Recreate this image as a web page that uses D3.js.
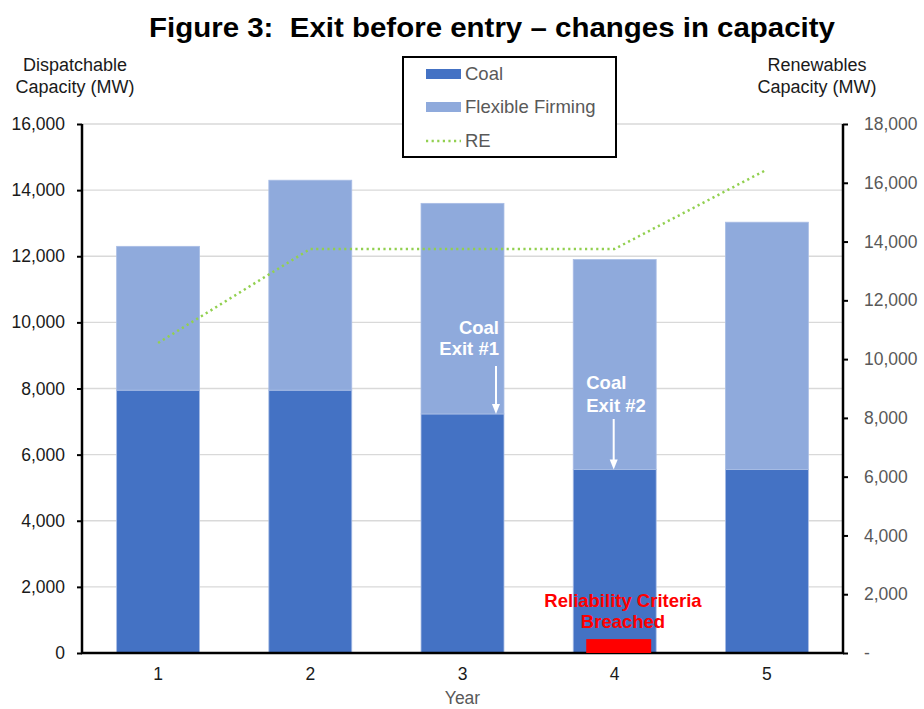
<!DOCTYPE html>
<html>
<head>
<meta charset="utf-8">
<script src="https://cdn.jsdelivr.net/npm/d3@7/dist/d3.min.js"></script>
<style>
  html, body { margin: 0; padding: 0; background: #fff; }
  svg { display: block; font-family: "Liberation Sans", Arial, sans-serif; }
</style>
</head>
<body>
<svg id="chart" width="924" height="709"></svg>
<script>
// Years on the category axis
const years = ["1", "2", "3", "4", "5"];
// Dispatchable capacity (MW), stacked
const coal = [7950, 7950, 7230, 5550, 5550];
const flexibleFirming = [4350, 6350, 6370, 6350, 7480];
// Renewables capacity (MW), right axis
const renewables = [10550, 13750, 13750, 13750, 16450];
// Axis ticks
const leftTicks = [0, 2000, 4000, 6000, 8000, 10000, 12000, 14000, 16000];
const rightTicks = [0, 2000, 4000, 6000, 8000, 10000, 12000, 14000, 16000, 18000];
// Reliability breach marker height (MW)
const breachYear = "4";
const breachValue = 420;

const svg = d3.select("#chart");
const W = 924, H = 709;
const m = { left: 82, right: 81, top: 124, bottom: 56 };
const iw = W - m.left - m.right, ih = H - m.top - m.bottom;

const COAL = "#4472C4", FLEX = "#8FAADC", RE = "#92D050";
const FS = 17.5;

const x = d3.scaleBand().domain(years).range([0, iw]).paddingInner(0.455).paddingOuter(0.2275);
const yL = d3.scaleLinear().domain([0, 16000]).range([ih, 0]);
const yR = d3.scaleLinear().domain([0, 18000]).range([ih, 0]);

// Title
svg.append("text")
  .attr("x", 492).attr("y", 37)
  .attr("text-anchor", "middle")
  .attr("font-size", 27).attr("font-weight", "bold").attr("fill", "#000")
  .attr("textLength", 686).attr("lengthAdjust", "spacingAndGlyphs")
  .style("white-space", "pre")
  .text("Figure 3:  Exit before entry \u2013 changes in capacity");

// Axis titles
const leftTitle = svg.append("text").attr("font-size", 18).attr("fill", "#1a1a1a").attr("text-anchor", "middle");
leftTitle.append("tspan").attr("x", 75).attr("y", 71).text("Dispatchable");
leftTitle.append("tspan").attr("x", 75).attr("y", 93).text("Capacity (MW)");
const rightTitle = svg.append("text").attr("font-size", 18).attr("fill", "#1a1a1a").attr("text-anchor", "middle");
rightTitle.append("tspan").attr("x", 817).attr("y", 71).text("Renewables");
rightTitle.append("tspan").attr("x", 817).attr("y", 93).text("Capacity (MW)");

const g = svg.append("g").attr("transform", `translate(${m.left},${m.top})`);

// Gridlines
g.append("g").selectAll("line").data(leftTicks.filter(d => d > 0)).join("line")
  .attr("x1", 0).attr("x2", iw)
  .attr("y1", d => yL(d)).attr("y2", d => yL(d))
  .attr("stroke", "#d9d9d9").attr("stroke-width", 1.3);

// Stacked bars
const rows = years.map((yr, i) => ({ year: yr, coal: coal[i], flex: flexibleFirming[i] }));
const stack = d3.stack().keys(["coal", "flex"])(rows);
const fills = { coal: COAL, flex: FLEX };
g.append("g").selectAll("g").data(stack).join("g")
  .attr("fill", d => fills[d.key])
  .selectAll("rect").data(d => d).join("rect")
  .attr("x", d => x(d.data.year))
  .attr("width", x.bandwidth())
  .attr("y", d => yL(d[1]))
  .attr("height", d => yL(d[0]) - yL(d[1]))
  .attr("stroke", "#a9bde5").attr("stroke-width", 0.8);

// Renewables line
const line = d3.line()
  .x((d, i) => x(years[i]) + x.bandwidth() / 2)
  .y(d => yR(d));
g.append("path").datum(renewables)
  .attr("d", line)
  .attr("fill", "none").attr("stroke", RE)
  .attr("stroke-width", 2.5).attr("stroke-dasharray", "2.2 3.4")
  .attr("stroke-linejoin", "round");

// Axes
const axisL = g.append("g")
  .call(d3.axisLeft(yL).tickValues(leftTicks).tickFormat(d3.format(",")).tickSize(5).tickPadding(12));
const axisR = g.append("g").attr("transform", `translate(${iw},0)`)
  .call(d3.axisRight(yR).tickValues(rightTicks).tickFormat(d => d === 0 ? "-" : d3.format(",")(d)).tickSize(5).tickPadding(16));
const axisB = g.append("g").attr("transform", `translate(0,${ih})`)
  .call(d3.axisBottom(x).tickSize(0).tickPadding(15));

[axisL, axisR, axisB].forEach(a => {
  a.select(".domain").attr("stroke", "#000").attr("stroke-width", 2.5);
  a.selectAll(".tick line").attr("stroke", "#000").attr("stroke-width", 2);
  a.selectAll("text").attr("font-size", FS).attr("font-family", "Liberation Sans, Arial, sans-serif");
});
axisL.select(".domain").attr("d", `M0,0V${ih}`);
axisR.select(".domain").attr("d", `M0,0V${ih}`);
axisB.select(".domain").attr("d", `M-1,0H${iw + 1}`);
axisL.selectAll("text").attr("fill", "#1a1a1a");
axisR.selectAll("text").attr("fill", "#595959");
axisB.selectAll("text").attr("fill", "#1a1a1a");

// X axis title
g.append("text").attr("x", iw / 2).attr("y", ih + 51)
  .attr("text-anchor", "middle").attr("font-size", FS).attr("fill", "#595959").text("Year");

// Coal exit notes: white labels with arrows pointing to the top of the coal block
function arrow(ax, y0, idx) {
  const tip = yL(coal[idx]);
  g.append("line").attr("x1", ax).attr("x2", ax).attr("y1", y0).attr("y2", tip - 8)
    .attr("stroke", "#fff").attr("stroke-width", 2);
  g.append("path").attr("d", `M${ax - 4},${tip - 10}L${ax + 4},${tip - 10}L${ax},${tip}Z`).attr("fill", "#fff");
}
{
  const idx = 2;
  const ax = x(years[idx]) + x.bandwidth() - 8;
  const t = g.append("text").attr("font-size", 18.5).attr("font-weight", "bold")
    .attr("fill", "#fff").attr("text-anchor", "end");
  t.append("tspan").attr("x", ax + 3).attr("y", 334 - m.top).text("Coal");
  t.append("tspan").attr("x", ax + 3).attr("y", 355 - m.top).text("Exit #1");
  arrow(ax, 366 - m.top, idx);
}
{
  const idx = 3;
  const ax = x(years[idx]) + x.bandwidth() / 2 - 1;
  const t = g.append("text").attr("font-size", 18.5).attr("font-weight", "bold")
    .attr("fill", "#fff").attr("text-anchor", "start");
  t.append("tspan").attr("x", x(years[idx]) + 13).attr("y", 389 - m.top).text("Coal");
  t.append("tspan").attr("x", x(years[idx]) + 13).attr("y", 412 - m.top).text("Exit #2");
  arrow(ax, 419 - m.top, idx);
}

// Reliability breach marker
const bx = x(breachYear);
g.append("rect")
  .attr("x", bx + 13).attr("width", x.bandwidth() - 18)
  .attr("y", yL(breachValue)).attr("height", yL(0) - yL(breachValue))
  .attr("fill", "#FF0000");
const rt = g.append("text").attr("font-size", 18.5).attr("font-weight", "bold")
  .attr("fill", "#FF0000").attr("text-anchor", "middle");
rt.append("tspan").attr("x", 623 - m.left).attr("y", 607 - m.top).text("Reliability Criteria");
rt.append("tspan").attr("x", 623 - m.left).attr("y", 628 - m.top).text("Breached");

// Legend
const lg = svg.append("g");
lg.append("rect").attr("x", 403).attr("y", 57).attr("width", 213).attr("height", 100)
  .attr("fill", "#fff").attr("stroke", "#000").attr("stroke-width", 2);
const items = [
  { label: "Coal", type: "rect", color: COAL, y: 74 },
  { label: "Flexible Firming", type: "rect", color: FLEX, y: 107 },
  { label: "RE", type: "line", color: RE, y: 141 }
];
items.forEach(it => {
  if (it.type === "rect") {
    lg.append("rect").attr("x", 426).attr("y", it.y - 5).attr("width", 35).attr("height", 10).attr("fill", it.color);
  } else {
    lg.append("line").attr("x1", 426).attr("x2", 461).attr("y1", it.y).attr("y2", it.y)
      .attr("stroke", it.color).attr("stroke-width", 2.5).attr("stroke-dasharray", "2.2 3.4");
  }
  lg.append("text").attr("x", 465).attr("y", it.y + 6).attr("font-size", 18.5).attr("fill", "#595959").text(it.label);
});
</script>
</body>
</html>
